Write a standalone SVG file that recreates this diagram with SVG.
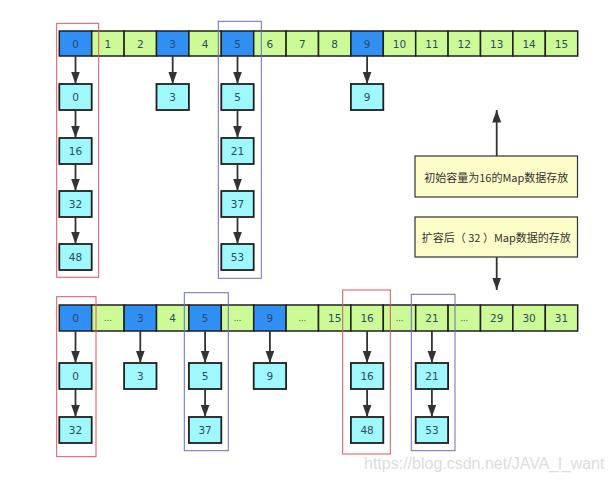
<svg xmlns="http://www.w3.org/2000/svg" width="616" height="481" viewBox="0 0 616 481">
<style>
.b{fill:#2f8ff2;stroke:#1f1f1f;stroke-width:1.5}
.g{fill:#ccfa96;stroke:#1f1f1f;stroke-width:1.5}
.n{fill:#9ff8fc;stroke:#1f1f1f;stroke-width:1.8}
.y{fill:#fdfdc9;stroke:#333;stroke-width:1.2}
.t{font-family:"DejaVu Sans",Verdana,sans-serif;font-size:10.5px;fill:#2e4a66;text-anchor:middle;dominant-baseline:central}
.d{font-size:8px}
.c{font-family:"Noto Sans CJK SC","DejaVu Sans",sans-serif;font-size:11px;fill:#333;text-anchor:middle;dominant-baseline:central}
.a{stroke:#333;stroke-width:1.8;fill:none;marker-end:url(#ah)}
.rb{fill:none;stroke:#d9555f;stroke-width:1}
.bb{fill:none;stroke:#6a6acb;stroke-width:1}
.w{font-family:"Liberation Sans",Arial,sans-serif;font-size:16px;fill:#dcdcdc}
</style>
<defs>
<marker id="ah" markerUnits="userSpaceOnUse" markerWidth="13" markerHeight="10" viewBox="0 0 13 10" refX="12.5" refY="4.5" orient="auto">
<path d="M0,0 L12.5,4.5 L0,9 Z" fill="#333"/>
</marker>
</defs>

<g id="top-array">
<rect class="b" x="59.3" y="31" width="32.4" height="25"/><text class="t" x="75.5" y="43.5">0</text>
<rect class="g" x="91.7" y="31" width="32.4" height="25"/><text class="t" x="107.9" y="43.5">1</text>
<rect class="g" x="124.1" y="31" width="32.4" height="25"/><text class="t" x="140.3" y="43.5">2</text>
<rect class="b" x="156.5" y="31" width="32.4" height="25"/><text class="t" x="172.7" y="43.5">3</text>
<rect class="g" x="188.9" y="31" width="32.4" height="25"/><text class="t" x="205.1" y="43.5">4</text>
<rect class="b" x="221.3" y="31" width="32.4" height="25"/><text class="t" x="237.5" y="43.5">5</text>
<rect class="g" x="253.7" y="31" width="32.4" height="25"/><text class="t" x="269.9" y="43.5">6</text>
<rect class="g" x="286.1" y="31" width="32.4" height="25"/><text class="t" x="302.3" y="43.5">7</text>
<rect class="g" x="318.5" y="31" width="32.4" height="25"/><text class="t" x="334.7" y="43.5">8</text>
<rect class="b" x="350.9" y="31" width="32.4" height="25"/><text class="t" x="367.1" y="43.5">9</text>
<rect class="g" x="383.3" y="31" width="32.4" height="25"/><text class="t" x="399.5" y="43.5">10</text>
<rect class="g" x="415.7" y="31" width="32.4" height="25"/><text class="t" x="431.9" y="43.5">11</text>
<rect class="g" x="448.1" y="31" width="32.4" height="25"/><text class="t" x="464.3" y="43.5">12</text>
<rect class="g" x="480.5" y="31" width="32.4" height="25"/><text class="t" x="496.7" y="43.5">13</text>
<rect class="g" x="512.9" y="31" width="32.4" height="25"/><text class="t" x="529.1" y="43.5">14</text>
<rect class="g" x="545.3" y="31" width="32.4" height="25"/><text class="t" x="561.5" y="43.5">15</text>
</g>

<g id="top-nodes">
<g id="t0"><rect class="n" x="59.3" y="84" width="32.4" height="26"/><text class="t" x="75.5" y="97">0</text></g>
<g id="t16"><rect class="n" x="59.3" y="138" width="32.4" height="26"/><text class="t" x="75.5" y="151">16</text></g>
<g id="t32"><rect class="n" x="59.3" y="191" width="32.4" height="26"/><text class="t" x="75.5" y="204">32</text></g>
<g id="t48"><rect class="n" x="59.3" y="244" width="32.4" height="26"/><text class="t" x="75.5" y="257">48</text></g>
<g id="t3"><rect class="n" x="156.5" y="84" width="32.4" height="26"/><text class="t" x="172.7" y="97">3</text></g>
<g id="t5"><rect class="n" x="221.3" y="84" width="32.4" height="26"/><text class="t" x="237.5" y="97">5</text></g>
<g id="t21"><rect class="n" x="221.3" y="138" width="32.4" height="26"/><text class="t" x="237.5" y="151">21</text></g>
<g id="t37"><rect class="n" x="221.3" y="191" width="32.4" height="26"/><text class="t" x="237.5" y="204">37</text></g>
<g id="t53"><rect class="n" x="221.3" y="244" width="32.4" height="26"/><text class="t" x="237.5" y="257">53</text></g>
<g id="t9"><rect class="n" x="350.9" y="84" width="32.4" height="26"/><text class="t" x="367.1" y="97">9</text></g>
</g>

<g id="bottom-array">
<rect class="b" x="59.3" y="305" width="32.4" height="26"/><text class="t" x="75.5" y="318">0</text>
<rect class="g" x="91.7" y="305" width="32.4" height="26"/><text class="t d" x="107.9" y="318">...</text>
<rect class="b" x="124.1" y="305" width="32.4" height="26"/><text class="t" x="140.3" y="318">3</text>
<rect class="g" x="156.5" y="305" width="32.4" height="26"/><text class="t" x="172.7" y="318">4</text>
<rect class="b" x="188.9" y="305" width="32.4" height="26"/><text class="t" x="205.1" y="318">5</text>
<rect class="g" x="221.3" y="305" width="32.4" height="26"/><text class="t d" x="237.5" y="318">...</text>
<rect class="b" x="253.7" y="305" width="32.4" height="26"/><text class="t" x="269.9" y="318">9</text>
<rect class="g" x="286.1" y="305" width="32.4" height="26"/><text class="t d" x="302.3" y="318">...</text>
<rect class="g" x="318.5" y="305" width="32.4" height="26"/><text class="t" x="334.7" y="318">15</text>
<rect class="g" x="350.9" y="305" width="32.4" height="26"/><text class="t" x="367.1" y="318">16</text>
<rect class="g" x="383.3" y="305" width="32.4" height="26"/><text class="t d" x="399.5" y="318">...</text>
<rect class="g" x="415.7" y="305" width="32.4" height="26"/><text class="t" x="431.9" y="318">21</text>
<rect class="g" x="448.1" y="305" width="32.4" height="26"/><text class="t d" x="464.3" y="318">...</text>
<rect class="g" x="480.5" y="305" width="32.4" height="26"/><text class="t" x="496.7" y="318">29</text>
<rect class="g" x="512.9" y="305" width="32.4" height="26"/><text class="t" x="529.1" y="318">30</text>
<rect class="g" x="545.3" y="305" width="32.4" height="26"/><text class="t" x="561.5" y="318">31</text>
</g>

<g id="bottom-nodes">
<g id="b0"><rect class="n" x="59.3" y="363" width="32.4" height="26"/><text class="t" x="75.5" y="376">0</text></g>
<g id="b32"><rect class="n" x="59.3" y="417" width="32.4" height="26"/><text class="t" x="75.5" y="430">32</text></g>
<g id="b3"><rect class="n" x="124.1" y="363" width="32.4" height="26"/><text class="t" x="140.3" y="376">3</text></g>
<g id="b5"><rect class="n" x="188.9" y="363" width="32.4" height="26"/><text class="t" x="205.1" y="376">5</text></g>
<g id="b37"><rect class="n" x="188.9" y="417" width="32.4" height="26"/><text class="t" x="205.1" y="430">37</text></g>
<g id="b9"><rect class="n" x="253.7" y="363" width="32.4" height="26"/><text class="t" x="269.9" y="376">9</text></g>
<g id="b16"><rect class="n" x="350.9" y="363" width="32.4" height="26"/><text class="t" x="367.1" y="376">16</text></g>
<g id="b48"><rect class="n" x="350.9" y="417" width="32.4" height="26"/><text class="t" x="367.1" y="430">48</text></g>
<g id="b21"><rect class="n" x="415.7" y="363" width="32.4" height="26"/><text class="t" x="431.9" y="376">21</text></g>
<g id="b53"><rect class="n" x="415.7" y="417" width="32.4" height="26"/><text class="t" x="431.9" y="430">53</text></g>
</g>

<g id="legend-initial"><rect class="y" x="415" y="156" width="162.5" height="41"/><text class="c" x="496.3" y="176.5">初始容量为16的Map数据存放</text></g>
<g id="legend-resized"><rect class="y" x="415" y="217" width="162.5" height="40"/><text class="c" x="496.3" y="237">扩容后（ 32 ）Map数据的存放</text></g>

<g id="connectors">
<line class="a" x1="75.5" y1="56" x2="75.5" y2="84"/>
<line class="a" x1="75.5" y1="110" x2="75.5" y2="138"/>
<line class="a" x1="75.5" y1="164" x2="75.5" y2="191"/>
<line class="a" x1="75.5" y1="217" x2="75.5" y2="244"/>
<line class="a" x1="172.7" y1="56" x2="172.7" y2="84"/>
<line class="a" x1="237.5" y1="56" x2="237.5" y2="84"/>
<line class="a" x1="237.5" y1="110" x2="237.5" y2="138"/>
<line class="a" x1="237.5" y1="164" x2="237.5" y2="191"/>
<line class="a" x1="237.5" y1="217" x2="237.5" y2="244"/>
<line class="a" x1="367.1" y1="56" x2="367.1" y2="84"/>
<line class="a" x1="496.7" y1="156" x2="496.7" y2="110"/>
<line class="a" x1="496.7" y1="257" x2="496.7" y2="290"/>
<line class="a" x1="75.5" y1="331" x2="75.5" y2="363"/>
<line class="a" x1="75.5" y1="389" x2="75.5" y2="417"/>
<line class="a" x1="140.3" y1="331" x2="140.3" y2="363"/>
<line class="a" x1="205.1" y1="331" x2="205.1" y2="363"/>
<line class="a" x1="205.1" y1="389" x2="205.1" y2="417"/>
<line class="a" x1="269.9" y1="331" x2="269.9" y2="363"/>
<line class="a" x1="367.1" y1="331" x2="367.1" y2="363"/>
<line class="a" x1="367.1" y1="389" x2="367.1" y2="417"/>
<line class="a" x1="431.9" y1="331" x2="431.9" y2="363"/>
<line class="a" x1="431.9" y1="389" x2="431.9" y2="417"/>
</g>

<g id="highlights">
<rect class="rb" x="56.7" y="23.3" width="42" height="254"/>
<rect class="bb" x="218.3" y="21.3" width="43" height="257"/>
<rect class="rb" x="56.7" y="296.7" width="39.3" height="160"/>
<rect class="bb" x="184.3" y="292.7" width="44" height="158"/>
<rect class="rb" x="342.7" y="290" width="47.6" height="164"/>
<rect class="bb" x="411.3" y="294.3" width="43.7" height="156.4"/>
</g>

<text class="w" x="364" y="469">https://blog.csdn.net/JAVA_l_want</text>
</svg>
